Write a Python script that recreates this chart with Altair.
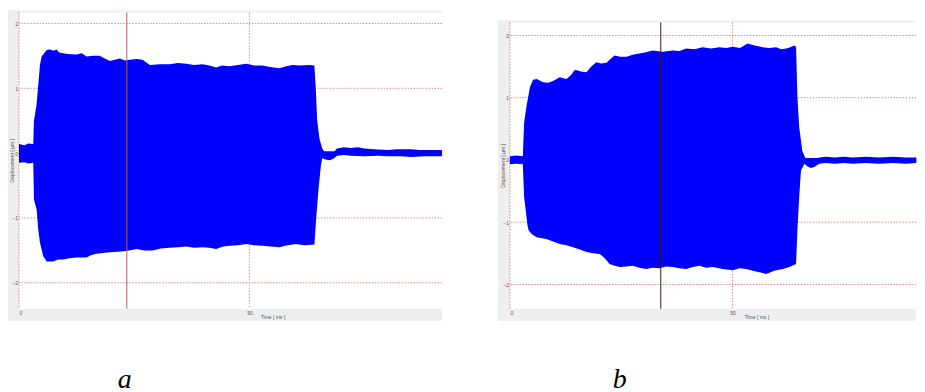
import altair as alt
import pandas as pd

# ---------------- data ----------------
# panel a : upper envelope (time in ms, displacement in µm)
a_up_t = [0, 1.2, 2.0, 3.1, 3.25, 3.8, 4.18, 4.55, 4.91, 5.26, 6.0, 6.71, 7.5, 8.16, 8.72,
          10.5, 12.5, 13.6, 14.7, 16.0, 17.5, 18.6, 19.7, 20.8, 21.9, 23.0, 24.0, 25.5, 26.8,
          28.4, 30.5, 32.7, 34.5, 36.3, 38.0, 39.8, 41.3, 42.8, 44.0, 45.7, 47.5, 49.3, 51.0,
          52.8, 54.5, 56.5, 58.0, 59.3, 61.0, 63.0, 64.1, 64.4, 64.7, 65.2, 65.8, 66.5, 67.5,
          68.4, 69.0, 70.5, 72.0, 73.5, 75.0, 77.0, 80.0, 82.0, 85.0, 87.0, 90.0, 91.8]
a_up_v = [0.14, 0.12, 0.15, 0.14, 0.5, 0.74, 1.05, 1.36, 1.49, 1.52, 1.59, 1.60, 1.58, 1.60, 1.55,
          1.53, 1.52, 1.54, 1.49, 1.50, 1.50, 1.46, 1.42, 1.44, 1.46, 1.43, 1.44, 1.45, 1.44,
          1.36, 1.37, 1.37, 1.39, 1.38, 1.36, 1.37, 1.35, 1.32, 1.35, 1.34, 1.36, 1.38, 1.35,
          1.35, 1.33, 1.31, 1.34, 1.36, 1.35, 1.36, 1.35, 1.0, 0.51, 0.22, 0.07, 0.0, 0.0,
          0.02, 0.07, 0.09, 0.08, 0.09, 0.07, 0.06, 0.05, 0.06, 0.06, 0.05, 0.05, 0.05]
# panel a : lower envelope
a_lo_t = [0, 1.2, 2.0, 3.1, 3.25, 3.83, 4.18, 4.55, 5.26, 6.0, 7.42, 8.5, 9.59, 11.0, 12.5,
          14.65, 15.7, 16.8, 18.2, 19.7, 21.5, 23.3, 25.5, 27.2, 29.0, 30.8, 32.7, 34.5, 36.3,
          38.0, 39.8, 41.3, 42.8, 44.3, 45.7, 47.5, 49.3, 51.0, 52.8, 54.6, 56.5, 58.3, 60.1,
          62.0, 64.1, 64.5, 65.0, 65.5, 65.8, 66.5, 67.5, 68.4, 69.0, 70.5, 72.0, 75.0, 78.0,
          80.0, 83.0, 85.0, 88.0, 91.8]
a_lo_v = [-0.15, -0.14, -0.16, -0.15, -0.72, -0.87, -1.18, -1.38, -1.59, -1.67, -1.67, -1.64, -1.64, -1.62, -1.61,
          -1.61, -1.57, -1.55, -1.54, -1.53, -1.52, -1.51, -1.48, -1.50, -1.50, -1.47, -1.46, -1.45, -1.44,
          -1.46, -1.45, -1.46, -1.48, -1.44, -1.43, -1.42, -1.40, -1.42, -1.43, -1.44, -1.45, -1.42, -1.40,
          -1.42, -1.41, -1.0, -0.55, -0.2, -0.08, -0.10, -0.11, -0.08, -0.04, -0.03, -0.04, -0.05, -0.04,
          -0.05, -0.05, -0.06, -0.05, -0.05]

# panel b : upper envelope
b_up_t = [0, 1.5, 2.9, 3.2, 3.7, 4.5, 5.2, 6.0, 7.5, 8.6, 9.7, 11.2, 12.7, 13.7, 14.6, 16.0,
          17.2, 18.3, 19.4, 20.5, 21.7, 22.6, 23.5, 24.8, 26.2, 27.6, 29.1, 30.6, 32.1, 34.3,
          36.6, 38.1, 39.6, 41.5, 43.3, 45.2, 47.1, 48.6, 50.1, 51.7, 53.4, 55.0, 56.8, 58.3,
          59.8, 61.0, 62.1, 63.0, 63.9, 64.3, 64.6, 65.0, 65.7, 66.2, 66.8, 67.6, 68.5, 69.5,
          71.0, 73.0, 75.0, 77.0, 80.0, 83.0, 86.0, 89.0, 91.3]
b_up_v = [0.06, 0.07, 0.06, 0.6, 0.85, 1.17, 1.29, 1.30, 1.25, 1.24, 1.27, 1.33, 1.30, 1.36, 1.45, 1.42,
          1.41, 1.50, 1.57, 1.55, 1.56, 1.62, 1.68, 1.66, 1.66, 1.69, 1.71, 1.73, 1.76, 1.74,
          1.76, 1.75, 1.79, 1.78, 1.81, 1.79, 1.81, 1.80, 1.82, 1.80, 1.87, 1.84, 1.81, 1.80,
          1.81, 1.78, 1.79, 1.81, 1.84, 1.82, 1.01, 0.53, 0.15, 0.06, -0.02, -0.03, 0.0, 0.04,
          0.05, 0.04, 0.05, 0.04, 0.05, 0.04, 0.05, 0.04, 0.04]
# panel b : lower envelope
b_lo_t = [0, 1.5, 2.9, 3.2, 3.95, 4.2, 4.9, 6.0, 8.2, 9.7, 11.2, 12.7, 14.2, 15.7, 17.2, 18.7,
          20.2, 21.3, 22.4, 23.5, 24.7, 26.2, 27.6, 29.1, 30.6, 32.1, 33.6, 35.1, 36.6, 38.1,
          39.6, 41.1, 42.6, 44.1, 45.6, 47.8, 50.1, 51.6, 53.1, 55.3, 57.6, 59.4, 61.3, 62.8,
          64.3, 64.6, 65.0, 65.4, 66.2, 66.8, 67.6, 68.5, 69.5, 71.0, 73.0, 75.0, 77.0, 80.0,
          83.0, 86.0, 89.0, 91.3]
b_lo_v = [-0.07, -0.06, -0.07, -0.6, -1.05, -1.13, -1.19, -1.24, -1.27, -1.31, -1.35, -1.37, -1.40, -1.44, -1.48, -1.50,
          -1.51, -1.58, -1.67, -1.70, -1.72, -1.71, -1.70, -1.73, -1.75, -1.73, -1.74, -1.71, -1.72, -1.74,
          -1.75, -1.72, -1.70, -1.73, -1.72, -1.75, -1.77, -1.74, -1.75, -1.79, -1.83, -1.78, -1.75, -1.72,
          -1.67, -1.13, -0.60, -0.17, -0.06, -0.10, -0.13, -0.11, -0.06, -0.05, -0.06, -0.05, -0.06, -0.05,
          -0.06, -0.05, -0.06, -0.05]

y_ticks = [-2, -1, 0, 1, 2]
x_ticks = [0, 50]
cursor_a = [23.4]
cursor_b = [33.9]
panel_labels = ["a", "b"]
x_title = "Time [ ms ]"
y_title = "Displacement [ µm ]"

BLUE = "#0000ff"
GRAY = "#eeeeee"
GRID = "#d46a6a"
AXC = "#555555"
FONT = "Liberation Sans"
H = 297
SEAM = 0.03  # small overlap of the two filled halves so no hairline shows at zero


def panel(up_t, up_v, lo_t, lo_v, xmax, ydom, W, top_off, cur, cur_color, label,
          label_x, gray_left, xtitle_x):
    xs = alt.Scale(domain=[0, xmax], nice=False, zero=False)
    ys = alt.Scale(domain=ydom, range=[H, top_off], nice=False, zero=False)
    xaxis = alt.Axis(values=x_ticks, format="d", grid=False, domain=False, ticks=False,
                     labelFontSize=5, labelColor=AXC, labelFont=FONT, labelPadding=1.5,
                     title=x_title, titleFontSize=5, titleFontWeight="normal", titleColor=AXC,
                     titleFont=FONT, titleX=xtitle_x, titleY=7.5, titleAlign="center",
                     titleBaseline="middle", zindex=1)
    yaxis = alt.Axis(values=y_ticks, format="d", grid=False, domain=False, ticks=False,
                     labelFontSize=5, labelColor=AXC, labelFont=FONT, labelPadding=1.5,
                     title=y_title, titleFontSize=5, titleFontWeight="normal", titleColor=AXC,
                     titleFont=FONT, titleX=-7.3, titleY=(H + top_off) / 2, titleAngle=-90,
                     titleAlign="center", titleBaseline="middle", zindex=1)
    X = alt.X("t:Q", scale=xs, axis=xaxis)
    Y = alt.Y("v:Q", scale=ys, axis=yaxis)

    one = alt.Data(values=[{"k": 0}])
    spacer = alt.Chart(one).mark_rect(color="white").encode(
        x=alt.value(-gray_left), x2=alt.value(W), y=alt.value(-4), y2=alt.value(-2))
    g0 = top_off - 2
    left = alt.Chart(one).mark_rect(color=GRAY).encode(
        x=alt.value(-gray_left), x2=alt.value(0), y=alt.value(g0), y2=alt.value(H + 12))
    top = alt.Chart(one).mark_rect(color=GRAY).encode(
        x=alt.value(-gray_left), x2=alt.value(W), y=alt.value(g0), y2=alt.value(top_off))
    bottom = alt.Chart(one).mark_rect(color=GRAY).encode(
        x=alt.value(-gray_left), x2=alt.value(W), y=alt.value(H), y2=alt.value(H + 12))

    hgrid = alt.Chart(pd.DataFrame({"v": y_ticks})).mark_rule(
        color=GRID, strokeDash=[1.5, 1.5], strokeWidth=1, opacity=0.8).encode(y=Y)
    vgrid = alt.Chart(pd.DataFrame({"t": x_ticks})).mark_rule(
        color=GRID, strokeDash=[1.5, 1.5], strokeWidth=1, opacity=0.8).encode(
        x=X, y=alt.value(top_off), y2=alt.value(H))

    upper = alt.Chart(pd.DataFrame({"t": up_t, "v": up_v})).mark_area(
        color=BLUE, opacity=1).encode(x=X, y=Y, y2=alt.datum(-SEAM))
    lower = alt.Chart(pd.DataFrame({"t": lo_t, "v": lo_v})).mark_area(
        color=BLUE, opacity=1).encode(x=X, y=Y, y2=alt.datum(SEAM))

    cursor = alt.Chart(pd.DataFrame({"t": cur})).mark_rule(
        color=cur_color, strokeWidth=1).encode(x=X, y=alt.value(top_off), y2=alt.value(H))

    txt = alt.Chart(pd.DataFrame({"lab": [label]})).mark_text(
        font="Liberation Serif", fontStyle="italic", fontSize=28, color="black",
        align="center", baseline="alphabetic").encode(
        text="lab:N", x=alt.value(label_x), y=alt.value(376))

    return alt.layer(spacer, left, top, bottom, hgrid, vgrid, upper, lower, cursor, txt).properties(
        width=W, height=H)


pa = panel(a_up_t, a_up_v, a_lo_t, a_lo_v, 91.8, [-2.4, 2.17], 424, 0,
           cursor_a, "#b36262", panel_labels[0], 106, 11, 254)
pb = panel(b_up_t, b_up_v, b_lo_t, b_lo_v, 91.25, [-2.39, 2.21], 407, 10,
           cursor_b, "#3a1c1c", panel_labels[1], 110, 12, 247)

chart = alt.hconcat(pa, pb, spacing=55).properties(padding=0, background="white").configure_view(
    stroke=None)

chart.save("out.html", embed_options={"renderer": "svg", "actions": False})
